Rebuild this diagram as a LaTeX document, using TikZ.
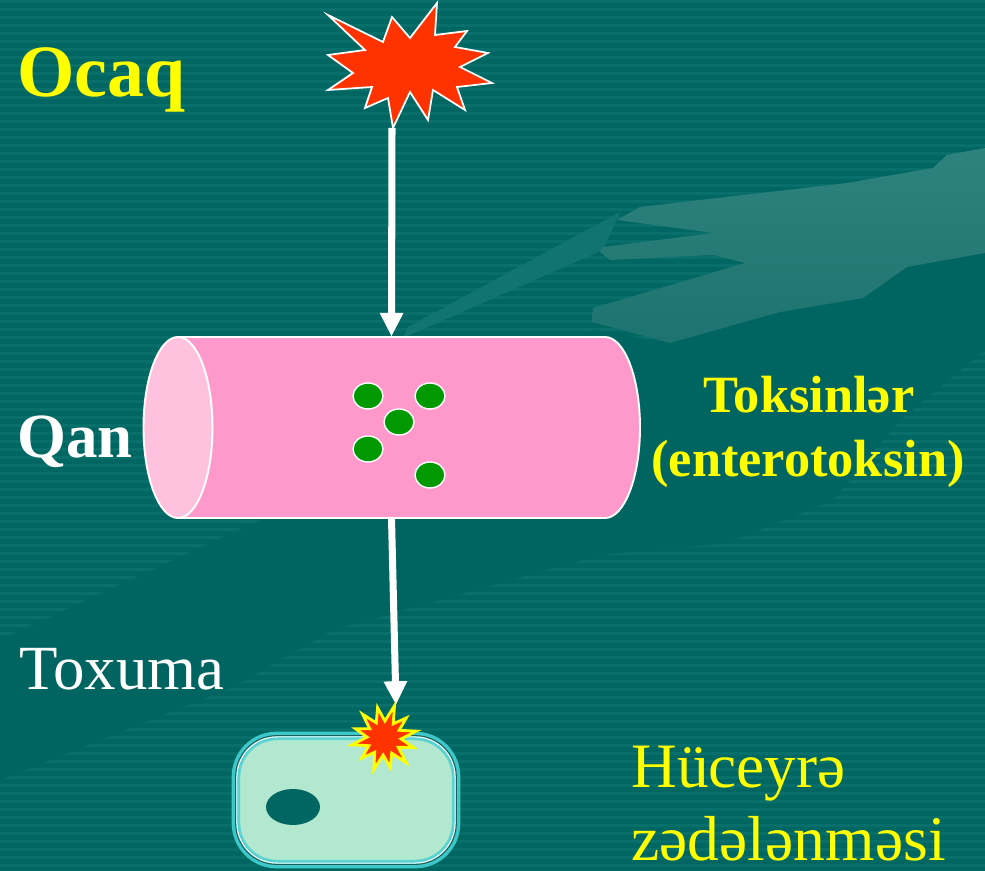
\documentclass[tikz,border=0pt]{standalone}
\usepackage{fontspec}
\setmainfont{Liberation Serif}
\usetikzlibrary{arrows.meta}

\definecolor{sea}{HTML}{006662}
\definecolor{seastripe}{HTML}{096F6B}
\definecolor{seashadow}{HTML}{006561}
\definecolor{armlight}{HTML}{2F837F}
\definecolor{armdark}{HTML}{1D736F}
\definecolor{sleeve}{HTML}{127470}
\definecolor{blast}{HTML}{FF3300}
\definecolor{vesselbody}{HTML}{FF99CC}
\definecolor{vesselend}{HTML}{FFC2DE}
\definecolor{toxin}{HTML}{009900}
\definecolor{cellring}{HTML}{3CC8C8}
\definecolor{cellinner}{HTML}{5CD4D0}
\definecolor{cellfill}{HTML}{B3E8D0}
\definecolor{cellline}{HTML}{1F5C5C}
\definecolor{label}{HTML}{FFFF00}

\begin{document}
\begin{tikzpicture}[x=0.02cm,y=-0.02cm,
  flow/.style={draw=white, line width=4pt,
    -{Triangle[width=12.5pt,length=13.5pt]}},
  txt/.style={inner sep=0pt, anchor=base west},
  ctxt/.style={inner sep=0pt, anchor=base},
  dot/.style={fill=toxin, draw=white, line width=0.8pt},
  vesselline/.style={draw=white, line width=1.1pt}]

% background with fine horizontal stripes
\fill[sea] (0,0) rectangle (985,871);
\useasboundingbox (0,0) rectangle (985,871);
\begin{scope}
\clip (0,0) rectangle (985,871);
\foreach \yy in {0,8,...,864}
  \fill[seastripe] (0,\yy) rectangle (985,\yy+3.5);

% diagonal shadow band below the arm
\fill[seashadow] (0,640) -- (267,517) -- (470,420) -- (592,330) -- (670,343)
  -- (780,312) -- (863,298) -- (907,267) -- (985,253) -- (985,350)
  -- (900,420) -- (833,500) -- (727,543) -- (600,555) -- (333,630)
  -- (233,687) -- (0,780) -- cycle;

% faint arm silhouette
\fill[sleeve] (620,212) -- (603,250) -- (403,338) -- (408,327) -- cycle;
\shade[top color=armlight, bottom color=armdark]
  (985,148) -- (947,155) -- (933,168) -- (847,183) -- (640,207) -- (617,220)
  -- (713,233) -- (603,247) -- (600,252) -- (610,260) -- (713,255)
  -- (745,263) -- (593,308) -- (592,322) -- (670,343) -- (780,312)
  -- (863,298) -- (907,267) -- (985,253) -- cycle;
\end{scope}

% source lesion (explosion)
\filldraw[fill=blast, draw=white, line width=1pt]
  (328,15) -- (383,42) -- (392,17) -- (410,38) -- (437,3) -- (435,35)
  -- (467,31) -- (455,47) -- (488,53) -- (460,67) -- (492,83) -- (457,87)
  -- (465,110) -- (433,90) -- (428,120) -- (410,92) -- (393,128) -- (388,98)
  -- (365,108) -- (372,87) -- (328,90) -- (353,73) -- (328,55) -- (365,50)
  -- cycle;
\coordinate (focus) at (392,128);

% blood vessel
\filldraw[fill=vesselbody, vesselline]
  (178,337) -- (605,337) arc[start angle=-90, end angle=90, x radius=35, y radius=90.5]
  -- (178,518) -- cycle;
\filldraw[fill=vesselend, vesselline] (178,427.5) ellipse[x radius=34.5, y radius=90.5];
\node[inner sep=0pt, minimum width=9.94cm, minimum height=3.62cm] (vessel) at (391.5,427.5) {};

% toxin particles
\foreach \p in {(368,396),(430,396),(399,422),(368,449),(430,475)}
  \filldraw[dot] \p ellipse[x radius=15, y radius=13];

% tissue cell
\node[inner sep=0pt, minimum width=4.56cm, minimum height=2.72cm] (cell) at (346,800) {};
\fill[cellring, rounded corners=0.9cm] (cell.north west) rectangle (cell.south east);
\draw[cellline, line width=0.6pt, rounded corners=0.82cm]
  ([shift={(4,4)}]cell.north west) rectangle ([shift={(-4,-4)}]cell.south east);
\draw[white, line width=0.6pt, rounded corners=0.8cm]
  ([shift={(5.3,5.3)}]cell.north west) rectangle ([shift={(-5.3,-5.3)}]cell.south east);
\filldraw[fill=cellfill, draw=cellinner, line width=1.2pt, rounded corners=0.76cm]
  ([shift={(7.5,7.5)}]cell.north west) rectangle ([shift={(-7.5,-7.5)}]cell.south east);
\fill[sea] (293,807) ellipse[x radius=27, y radius=18];

% arrows
\coordinate (hit) at (396,705);
\draw[flow] (focus) -- (vessel.north);
\draw[flow] (vessel.south) -- (hit);

% damage spot on the cell
\begin{scope}[shift={(384,738)}]
\filldraw[fill=blast, draw=label, line width=1.6pt, line join=miter]
  (-72:34) -- (-57:17) -- (-42:30) -- (-27:17) -- (-12:33) -- (3:17)
  -- (18:31) -- (33:17) -- (48:33) -- (63:17) -- (78:30) -- (93:17)
  -- (108:33) -- (123:17) -- (138:30) -- (153:17) -- (168:33) -- (183:17)
  -- (198:30) -- (213:17) -- (228:32) -- (243:17) -- (258:31) -- (273:17)
  -- cycle;
\end{scope}

% labels
\node[txt, text=label, font=\bfseries\fontsize{42}{48}\selectfont] (ocaq) at (17,97) {Ocaq};
\node[txt, text=white, font=\bfseries\fontsize{35.8}{40}\selectfont] (qan) at (17,458) {Qan};
\node[txt, text=white, font=\fontsize{35.8}{40}\selectfont] (toxuma) at (19,690) {Toxuma};
\node[ctxt, text=label, font=\bfseries\fontsize{29.8}{34}\selectfont] (toks) at (809,413) {Toksinlər};
\node[ctxt, text=label, font=\bfseries\fontsize{29.8}{34}\selectfont] (entero) at (808,477) {(enterotoksin)};
\node[txt, text=label, font=\fontsize{36}{42}\selectfont] (huc) at (631,787) {Hüceyrə};
\node[txt, text=label, font=\fontsize{36.2}{42}\selectfont] (zed) at (631,861) {zədələnməsi};
\end{tikzpicture}
\end{document}
